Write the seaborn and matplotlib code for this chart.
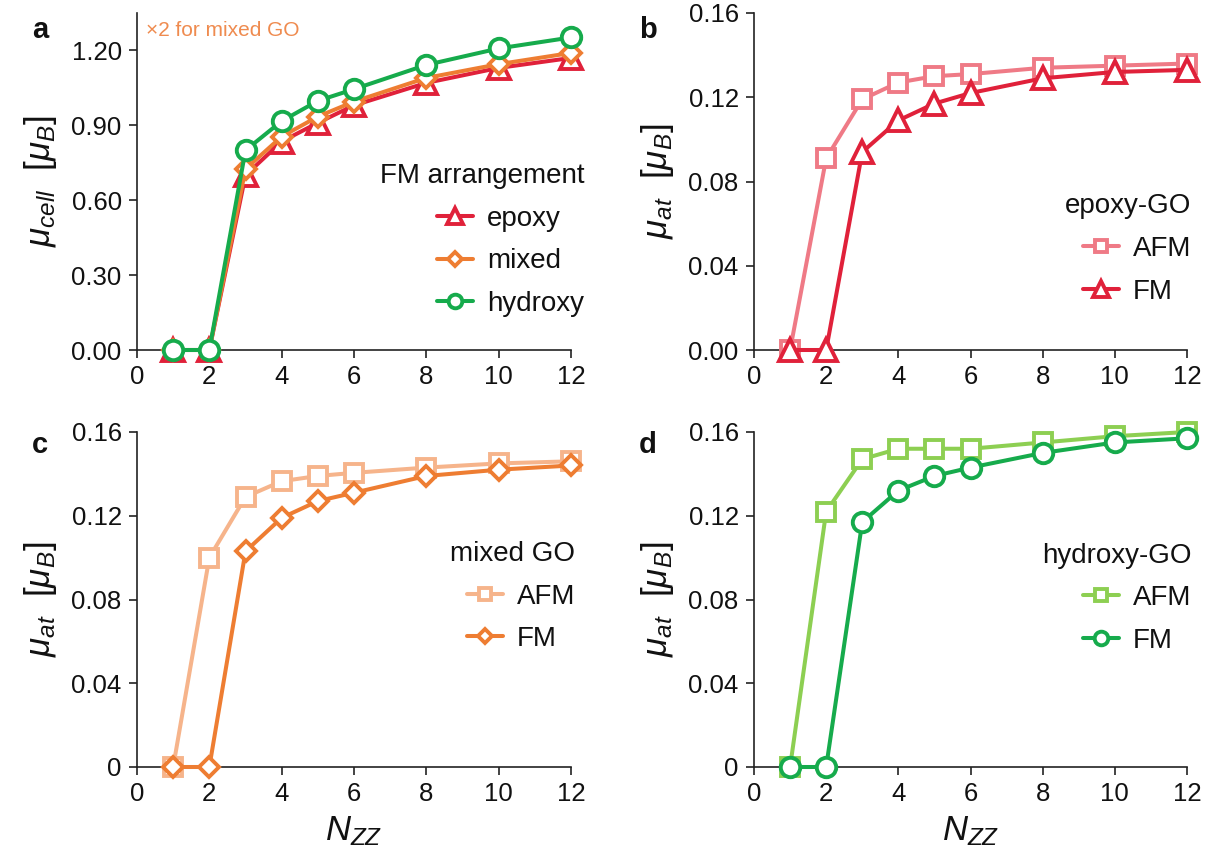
import numpy as np
import pandas as pd
import matplotlib
matplotlib.use("Agg")
import matplotlib.pyplot as plt
import seaborn as sns

# ---------------- data ----------------
n_zz = [1, 2, 3, 4, 5, 6, 8, 10, 12]

# panel a: mu_cell (FM arrangement)
cell_epoxy = [0, 0, 0.70, 0.835, 0.91, 0.98, 1.07, 1.13, 1.17]
cell_mixed = [0, 0, 0.725, 0.855, 0.935, 0.995, 1.09, 1.145, 1.19]
cell_hydroxy = [0, 0, 0.80, 0.917, 0.998, 1.045, 1.142, 1.208, 1.252]

# panel b: epoxy-GO
epoxy_afm = [0, 0.091, 0.119, 0.127, 0.130, 0.131, 0.134, 0.135, 0.136]
epoxy_fm = [0, 0, 0.094, 0.109, 0.117, 0.122, 0.129, 0.132, 0.133]

# panel c: mixed GO
mixed_afm = [0, 0.100, 0.129, 0.1365, 0.139, 0.1405, 0.143, 0.145, 0.146]
mixed_fm = [0, 0, 0.103, 0.119, 0.127, 0.131, 0.139, 0.142, 0.144]

# panel d: hydroxy-GO
hydroxy_afm = [0, 0.122, 0.147, 0.152, 0.152, 0.152, 0.155, 0.158, 0.160]
hydroxy_fm = [0, 0, 0.117, 0.132, 0.139, 0.143, 0.150, 0.155, 0.157]

xticks = [0, 2, 4, 6, 8, 10, 12]
yticks_a = [0.00, 0.30, 0.60, 0.90, 1.20]
yticklabels_a = ["0.00", "0.30", "0.60", "0.90", "1.20"]
yticks_at = [0.00, 0.04, 0.08, 0.12, 0.16]
yticklabels_b = ["0.00", "0.04", "0.08", "0.12", "0.16"]
yticklabels_cd = ["0", "0.04", "0.08", "0.12", "0.16"]

# ---------------- style ----------------
sns.set_style("ticks")
plt.rcParams["font.family"] = ["Liberation Sans", "DejaVu Sans"]
plt.rcParams["mathtext.fontset"] = "custom"
plt.rcParams["mathtext.rm"] = "Liberation Sans"
plt.rcParams["mathtext.it"] = "Liberation Sans:italic"
plt.rcParams["mathtext.bf"] = "Liberation Sans:bold"

RED = "#e0213a"
PINK = "#ef7a86"
ORANGE = "#ee7d32"
LORANGE = "#f6b48b"
GREEN = "#16ab4c"
LGREEN = "#8dcf52"
AXC = "#222222"
TXT = "#111111"

fig = plt.figure(figsize=(12.12, 8.59), dpi=100)
W, H = 1212, 859

def add_ax(x0, x12, y0, ytop):
    return fig.add_axes([x0 / W, 1 - y0 / H, (x12 - x0) / W, (y0 - ytop) / H])

ax_a = add_ax(137, 571, 350, 13)
ax_b = add_ax(754, 1187, 350, 13)
ax_c = add_ax(137, 571, 767, 432)
ax_d = add_ax(754, 1187, 767, 432)

TICK_FS = 18.5
LEG_FS = 20
LAB_FS = 25

def series(ax, y, color, marker, label, ms, zorder):
    df = pd.DataFrame({"N": n_zz, "mu": y})
    sns.lineplot(data=df, x="N", y="mu", ax=ax, color=color, marker=marker,
                 markersize=ms, markeredgewidth=2.8, markerfacecolor="white",
                 markeredgecolor=color, linewidth=2.9, label=label,
                 clip_on=False, zorder=zorder)

def style_ax(ax, yticks, ylabels, ylim, ylab, xlab):
    ax.set_xlim(0, 12)
    ax.set_ylim(*ylim)
    ax.set_xticks(xticks)
    ax.set_xticklabels([str(t) for t in xticks])
    ax.set_yticks(yticks)
    ax.set_yticklabels(ylabels)
    ax.tick_params(axis="both", labelsize=TICK_FS, direction="out", length=6,
                   width=1.2, color=AXC, labelcolor=TXT, pad=5)
    for s in ["top", "right"]:
        ax.spines[s].set_visible(False)
    for s in ["left", "bottom"]:
        ax.spines[s].set_color(AXC)
        ax.spines[s].set_linewidth(1.2)
    ax.set_ylabel(ylab, fontsize=LAB_FS, labelpad=9, color=TXT)
    if xlab:
        ax.set_xlabel(xlab, fontsize=LAB_FS, labelpad=6, color=TXT)
    else:
        ax.set_xlabel("")

def legend(ax, title, anchor):
    leg = ax.legend(title=title, loc="upper right", bbox_to_anchor=anchor,
                    frameon=False, fontsize=LEG_FS, title_fontsize=LEG_FS,
                    alignment="right", borderaxespad=0, borderpad=0,
                    handlelength=1.3, handletextpad=0.5, labelspacing=0.6,
                    markerscale=0.7)
    for t in leg.get_texts():
        t.set_color(TXT)
    leg.get_title().set_color(TXT)
    return leg

# panel a
series(ax_a, cell_epoxy, RED, "^", "epoxy", 15.5, 3)
series(ax_a, cell_mixed, ORANGE, "D", "mixed", 10.5, 4)
series(ax_a, cell_hydroxy, GREEN, "o", "hydroxy", 14, 5)
style_ax(ax_a, yticks_a, yticklabels_a, (0, 1.35),
         r"$\mu_{cell}$  $[\mu_B]$", None)
legend(ax_a, "FM arrangement", (1.03, 0.555))
ax_a.text(0.02, 0.975, "×2 for mixed GO", transform=ax_a.transAxes,
          color="#ef8b4f", fontsize=15, ha="left", va="top")

# panel b
series(ax_b, epoxy_afm, PINK, "s", "AFM", 13, 3)
series(ax_b, epoxy_fm, RED, "^", "FM", 15.5, 4)
style_ax(ax_b, yticks_at, yticklabels_b, (0, 0.16),
         r"$\mu_{at}$  $[\mu_B]$", None)
legend(ax_b, "epoxy-GO", (1.01, 0.465))

# panel c
series(ax_c, mixed_afm, LORANGE, "s", "AFM", 13, 3)
series(ax_c, mixed_fm, ORANGE, "D", "FM", 10.5, 4)
style_ax(ax_c, yticks_at, yticklabels_cd, (0, 0.16),
         r"$\mu_{at}$  $[\mu_B]$", r"$N_{ZZ}$")
legend(ax_c, "mixed GO", (1.01, 0.675))

# panel d
series(ax_d, hydroxy_afm, LGREEN, "s", "AFM", 13, 3)
series(ax_d, hydroxy_fm, GREEN, "o", "FM", 14, 4)
style_ax(ax_d, yticks_at, yticklabels_cd, (0, 0.16),
         r"$\mu_{at}$  $[\mu_B]$", r"$N_{ZZ}$")
legend(ax_d, "hydroxy-GO", (1.01, 0.67))

for lab, (px, py) in zip("abcd", [(40, 30), (648, 30), (40, 445), (648, 445)]):
    fig.text(px / W, 1 - py / H, lab, fontsize=21, fontweight="bold",
             ha="center", va="center", color=TXT)

fig.savefig("out.png", dpi=100)
